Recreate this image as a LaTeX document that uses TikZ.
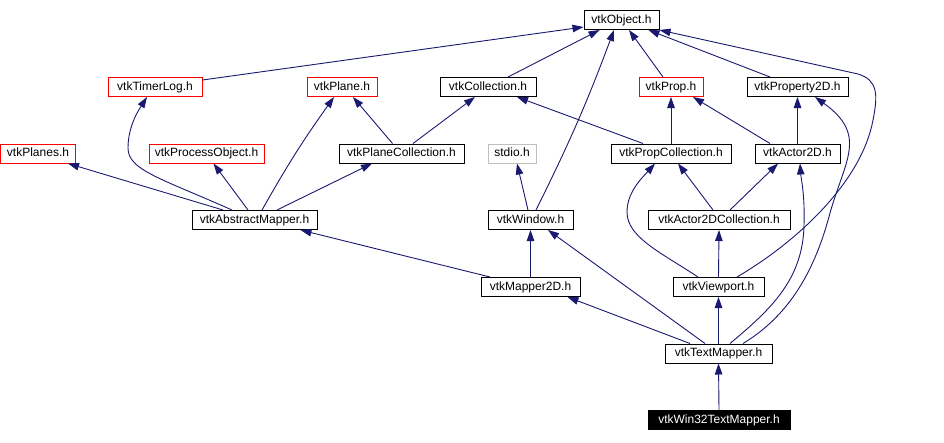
\documentclass[tikz,border=0pt]{standalone}
\usepackage{fontspec}
\setmainfont{Liberation Sans}
\usepackage{xcolor}
\definecolor{edgeblue}{RGB}{25, 25, 112}
\definecolor{extred}{RGB}{255, 0, 0}
\definecolor{sysgray}{RGB}{191, 191, 191}
\usepackage{tikz}
\usetikzlibrary{arrows.meta, calc}

\begin{document}
\begin{tikzpicture}[x=1pt, y=-1pt,
        header/.style={rectangle, draw=black, line width=1pt, fill=white, inner sep=0pt, minimum height=19pt, text height=8.3pt, text depth=1.7pt, font=\fontsize{12}{14}\selectfont},
        ext/.style={header, draw=extred},
        sys/.style={header, draw=sysgray},
        current/.style={header, fill=black, text=white},
        line/.style={draw=edgeblue, line width=0.9pt, -{Triangle[length=11pt, width=7.5pt]}}]
        \useasboundingbox (0,0) rectangle (944,442);

        \node [header, minimum width=75pt] (object) at (621.5,20) {vtkObject.h};

        \node [ext, minimum width=94pt] (timerlog) at (155,87) {vtkTimerLog.h};
        \node [ext, minimum width=70pt] (plane) at (342,87) {vtkPlane.h};
        \node [header, minimum width=96pt] (collection) at (488,87) {vtkCollection.h};
        \node [ext, minimum width=64pt] (prop) at (671,87) {vtkProp.h};
        \node [header, minimum width=101pt] (property2d) at (797.5,87) {vtkProperty2D.h};

        \node [ext, minimum width=75pt] (planes) at (38,153.5) {vtkPlanes.h};
        \node [ext, minimum width=115pt] (processobject) at (206.5,153.5) {vtkProcessObject.h};
        \node [header, minimum width=125pt] (planecollection) at (401.5,153.5) {vtkPlaneCollection.h};
        \node [sys, minimum width=48pt] (stdio) at (512,153.5) {stdio.h};
        \node [header, minimum width=120pt] (propcollection) at (671,153.5) {vtkPropCollection.h};
        \node [header, minimum width=85pt] (actor2d) at (797.5,153.5) {vtkActor2D.h};

        \node [header, minimum width=125pt] (abstractmapper) at (254.5,220) {vtkAbstractMapper.h};
        \node [header, minimum width=85pt] (window) at (530.5,220) {vtkWindow.h};
        \node [header, minimum width=142pt] (actor2dcollection) at (719,220) {vtkActor2DCollection.h};

        \node [header, minimum width=99pt] (mapper2d) at (530.5,287) {vtkMapper2D.h};
        \node [header, minimum width=91pt] (viewport) at (718.5,287) {vtkViewport.h};

        \node [header, minimum width=107pt] (textmapper) at (718.5,353.5) {vtkTextMapper.h};

        \node [current, minimum width=142pt] (win32textmapper) at (719,420) {vtkWin32TextMapper.h};

        \path [line] ([yshift=-3pt]timerlog.north east) -- ([yshift=3pt]object.south west);
        \path [line] ([xshift=20pt]collection.north) -- ([xshift=-22pt]object.south);
        \path [line] ([xshift=5.5pt]window.north) to[bend right=3] ([xshift=-7.5pt]object.south);
        \path [line] ([xshift=-8pt]prop.north) -- ([xshift=7.5pt]object.south);
        \path [line] ([xshift=-27.5pt]property2d.north) -- ([xshift=27pt]object.south);
        \path [line] ([xshift=18.5pt]viewport.north) .. controls (800,240) and (862,180) .. (873,120)
            .. controls (878,95) and (878,80) .. (858,74) -- (object.south east);

        \path [line] ([xshift=-22.5pt]abstractmapper.north) .. controls (160,178) and (128,170) .. (128,148)
            .. controls (128,125) and (140,108) .. ([xshift=-8pt]timerlog.south);
        \path [line] ([xshift=-31.5pt]abstractmapper.north) -- ([xshift=30pt]planes.south);
        \path [line] ([xshift=-6.5pt]abstractmapper.north) -- ([xshift=7pt]processobject.south);
        \path [line] ([xshift=7.5pt]abstractmapper.north) to[bend left=3] ([xshift=-8pt]plane.south);
        \path [line] ([xshift=22.5pt]abstractmapper.north) -- ([xshift=-29.5pt]planecollection.south);

        \path [line] ([xshift=-9pt]planecollection.north) -- ([xshift=11pt]plane.south);
        \path [line] ([xshift=11.5pt]planecollection.north) -- ([xshift=-13pt]collection.south);
        \path [line] ([xshift=-28pt]propcollection.north) -- ([xshift=29pt]collection.south);
        \path [line] (propcollection.north) -- (prop.south);
        \path [line] ([xshift=-27.5pt]actor2d.north) -- ([xshift=22pt]prop.south);
        \path [line] (actor2d.north) -- (property2d.south);

        \path [line] ([xshift=-2.5pt]window.north) -- ([xshift=5pt]stdio.south);
        \path [line] ([xshift=-6pt]actor2dcollection.north) -- ([xshift=7pt]propcollection.south);
        \path [line] ([xshift=11pt]actor2dcollection.north) -- ([xshift=-19.5pt]actor2d.south);

        \path [line] ([xshift=-20.5pt]viewport.north) .. controls (660,252) and (627,237) .. (627,212)
            .. controls (627,192) and (642,178) .. ([xshift=-16pt]propcollection.south);
        \path [line] (viewport.north) -- (actor2dcollection.south);
        \path [line] ([xshift=9.5pt]mapper2d.north west) -- ([xshift=-17pt]abstractmapper.south east);
        \path [line] (mapper2d.north) -- (window.south);

        \path [line] ([xshift=-13.5pt]textmapper.north) -- ([xshift=17.5pt]window.south);
        \path [line] ([xshift=-28.5pt]textmapper.north) -- ([xshift=-13pt]mapper2d.south east);
        \path [line] (textmapper.north) -- (viewport.south);
        \path [line] ([xshift=11.5pt]textmapper.north) .. controls (770,310) and (803,280) .. (804,225)
            .. controls (805,195) and (801,178) .. ([xshift=2.5pt]actor2d.south);
        \path [line] ([xshift=24.5pt]textmapper.north) .. controls (790,315) and (815,270) .. (830,213)
            .. controls (845,160) and (868,135) .. ([xshift=17.5pt]property2d.south);

        \path [line] (win32textmapper.north) -- (textmapper.south);
    \end{tikzpicture}
\end{document}
